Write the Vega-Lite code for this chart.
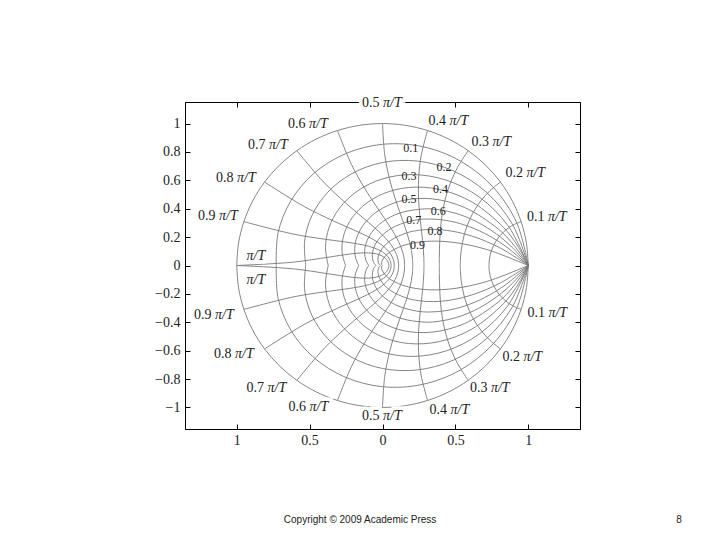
{
"$schema": "https://vega.github.io/schema/vega-lite/v6.json",
"width": 395, "height": 327,
"autosize": {"type": "none"},
"padding": {"left": 185, "top": 102, "right": 140, "bottom": 111},
"background": "white",
"config": {"view": {"stroke": "black", "strokeWidth": 1}},
"resolve": {"axis": {"x": "independent", "y": "independent"}},
"datasets": {
"curves": [
{"c":"z0","t":0,"x":1,"y":0},{"c":"z0","t":9,"x":0.98769,"y":0.15643},{"c":"z0","t":18,"x":0.95106,"y":0.30902},{"c":"z0","t":27,"x":0.89101,"y":0.45399},{"c":"z0","t":36,"x":0.80902,"y":0.58779},{"c":"z0","t":45,"x":0.70711,"y":0.70711},{"c":"z0","t":54,"x":0.58779,"y":0.80902},{"c":"z0","t":63,"x":0.45399,"y":0.89101},{"c":"z0","t":72,"x":0.30902,"y":0.95106},{"c":"z0","t":81,"x":0.15643,"y":0.98769},{"c":"z0","t":90,"x":0,"y":1},{"c":"z0","t":99,"x":-0.15643,"y":0.98769},{"c":"z0","t":108,"x":-0.30902,"y":0.95106},{"c":"z0","t":117,"x":-0.45399,"y":0.89101},{"c":"z0","t":126,"x":-0.58779,"y":0.80902},{"c":"z0","t":135,"x":-0.70711,"y":0.70711},{"c":"z0","t":144,"x":-0.80902,"y":0.58779},{"c":"z0","t":153,"x":-0.89101,"y":0.45399},{"c":"z0","t":162,"x":-0.95106,"y":0.30902},{"c":"z0","t":171,"x":-0.98769,"y":0.15643},{"c":"z0","t":180,"x":-1,"y":0},
{"c":"z0n","t":0,"x":1,"y":0},{"c":"z0n","t":9,"x":0.98769,"y":-0.15643},{"c":"z0n","t":18,"x":0.95106,"y":-0.30902},{"c":"z0n","t":27,"x":0.89101,"y":-0.45399},{"c":"z0n","t":36,"x":0.80902,"y":-0.58779},{"c":"z0n","t":45,"x":0.70711,"y":-0.70711},{"c":"z0n","t":54,"x":0.58779,"y":-0.80902},{"c":"z0n","t":63,"x":0.45399,"y":-0.89101},{"c":"z0n","t":72,"x":0.30902,"y":-0.95106},{"c":"z0n","t":81,"x":0.15643,"y":-0.98769},{"c":"z0n","t":90,"x":0,"y":-1},{"c":"z0n","t":99,"x":-0.15643,"y":-0.98769},{"c":"z0n","t":108,"x":-0.30902,"y":-0.95106},{"c":"z0n","t":117,"x":-0.45399,"y":-0.89101},{"c":"z0n","t":126,"x":-0.58779,"y":-0.80902},{"c":"z0n","t":135,"x":-0.70711,"y":-0.70711},{"c":"z0n","t":144,"x":-0.80902,"y":-0.58779},{"c":"z0n","t":153,"x":-0.89101,"y":-0.45399},{"c":"z0n","t":162,"x":-0.95106,"y":-0.30902},{"c":"z0n","t":171,"x":-0.98769,"y":-0.15643},{"c":"z0n","t":180,"x":-1,"y":0},
{"c":"z1","t":0,"x":1,"y":0},{"c":"z1","t":18,"x":0.9215,"y":0.29942},{"c":"z1","t":36,"x":0.75951,"y":0.55182},{"c":"z1","t":54,"x":0.53467,"y":0.73591},{"c":"z1","t":72,"x":0.27236,"y":0.83822},{"c":"z1","t":90,"x":0,"y":0.85396},{"c":"z1","t":108,"x":-0.25569,"y":0.78692},{"c":"z1","t":126,"x":-0.47123,"y":0.64859},{"c":"z1","t":144,"x":-0.62843,"y":0.45659},{"c":"z1","t":162,"x":-0.71581,"y":0.23258},{"c":"z1","t":180,"x":-0.72925,"y":0},
{"c":"z1n","t":0,"x":1,"y":0},{"c":"z1n","t":18,"x":0.9215,"y":-0.29942},{"c":"z1n","t":36,"x":0.75951,"y":-0.55182},{"c":"z1n","t":54,"x":0.53467,"y":-0.73591},{"c":"z1n","t":72,"x":0.27236,"y":-0.83822},{"c":"z1n","t":90,"x":0,"y":-0.85396},{"c":"z1n","t":108,"x":-0.25569,"y":-0.78692},{"c":"z1n","t":126,"x":-0.47123,"y":-0.64859},{"c":"z1n","t":144,"x":-0.62843,"y":-0.45659},{"c":"z1n","t":162,"x":-0.71581,"y":-0.23258},{"c":"z1n","t":180,"x":-0.72925,"y":0},
{"c":"z2","t":0,"x":1,"y":0},{"c":"z2","t":18,"x":0.89199,"y":0.28983},{"c":"z2","t":36,"x":0.71164,"y":0.51704},{"c":"z2","t":54,"x":0.48492,"y":0.66743},{"c":"z2","t":72,"x":0.2391,"y":0.73588},{"c":"z2","t":90,"x":0,"y":0.72569},{"c":"z2","t":108,"x":-0.21032,"y":0.6473},{"c":"z2","t":126,"x":-0.37521,"y":0.51643},{"c":"z2","t":144,"x":-0.48435,"y":0.3519},{"c":"z2","t":162,"x":-0.53402,"y":0.17351},{"c":"z2","t":180,"x":-0.52662,"y":0},
{"c":"z2n","t":0,"x":1,"y":0},{"c":"z2n","t":18,"x":0.89199,"y":-0.28983},{"c":"z2n","t":36,"x":0.71164,"y":-0.51704},{"c":"z2n","t":54,"x":0.48492,"y":-0.66743},{"c":"z2n","t":72,"x":0.2391,"y":-0.73588},{"c":"z2n","t":90,"x":0,"y":-0.72569},{"c":"z2n","t":108,"x":-0.21032,"y":-0.6473},{"c":"z2n","t":126,"x":-0.37521,"y":-0.51643},{"c":"z2n","t":144,"x":-0.48435,"y":-0.3519},{"c":"z2n","t":162,"x":-0.53402,"y":-0.17351},{"c":"z2n","t":180,"x":-0.52662,"y":0},
{"c":"z3","t":0,"x":1,"y":0},{"c":"z3","t":18,"x":0.86159,"y":0.27995},{"c":"z3","t":36,"x":0.66396,"y":0.4824},{"c":"z3","t":54,"x":0.43702,"y":0.6015},{"c":"z3","t":72,"x":0.20814,"y":0.64059},{"c":"z3","t":90,"x":0,"y":0.61019},{"c":"z3","t":108,"x":-0.17082,"y":0.52573},{"c":"z3","t":126,"x":-0.29435,"y":0.40514},{"c":"z3","t":144,"x":-0.36703,"y":0.26666},{"c":"z3","t":162,"x":-0.39088,"y":0.127},{"c":"z3","t":180,"x":-0.37233,"y":0},
{"c":"z3n","t":0,"x":1,"y":0},{"c":"z3n","t":18,"x":0.86159,"y":-0.27995},{"c":"z3n","t":36,"x":0.66396,"y":-0.4824},{"c":"z3n","t":54,"x":0.43702,"y":-0.6015},{"c":"z3n","t":72,"x":0.20814,"y":-0.64059},{"c":"z3n","t":90,"x":0,"y":-0.61019},{"c":"z3n","t":108,"x":-0.17082,"y":-0.52573},{"c":"z3n","t":126,"x":-0.29435,"y":-0.40514},{"c":"z3n","t":144,"x":-0.36703,"y":-0.26666},{"c":"z3n","t":162,"x":-0.39088,"y":-0.127},{"c":"z3n","t":180,"x":-0.37233,"y":0},
{"c":"z4","t":0,"x":1,"y":0},{"c":"z4","t":9,"x":0.92225,"y":0.14607},{"c":"z4","t":18,"x":0.82921,"y":0.26943},{"c":"z4","t":36,"x":0.61499,"y":0.44682},{"c":"z4","t":54,"x":0.38957,"y":0.53619},{"c":"z4","t":72,"x":0.17857,"y":0.54957},{"c":"z4","t":90,"x":0,"y":0.50382},{"c":"z4","t":108,"x":-0.13574,"y":0.41777},{"c":"z4","t":126,"x":-0.22511,"y":0.30984},{"c":"z4","t":144,"x":-0.27014,"y":0.19627},{"c":"z4","t":162,"x":-0.27688,"y":0.08997},{"c":"z4","t":180,"x":-0.25383,"y":0},
{"c":"z4n","t":0,"x":1,"y":0},{"c":"z4n","t":9,"x":0.92225,"y":-0.14607},{"c":"z4n","t":18,"x":0.82921,"y":-0.26943},{"c":"z4n","t":36,"x":0.61499,"y":-0.44682},{"c":"z4n","t":54,"x":0.38957,"y":-0.53619},{"c":"z4n","t":72,"x":0.17857,"y":-0.54957},{"c":"z4n","t":90,"x":0,"y":-0.50382},{"c":"z4n","t":108,"x":-0.13574,"y":-0.41777},{"c":"z4n","t":126,"x":-0.22511,"y":-0.30984},{"c":"z4n","t":144,"x":-0.27014,"y":-0.19627},{"c":"z4n","t":162,"x":-0.27688,"y":-0.08997},{"c":"z4n","t":180,"x":-0.25383,"y":0},
{"c":"z5","t":0,"x":1,"y":0},{"c":"z5","t":9,"x":0.90206,"y":0.14287},{"c":"z5","t":18,"x":0.7933,"y":0.25776},{"c":"z5","t":36,"x":0.56288,"y":0.40896},{"c":"z5","t":54,"x":0.34112,"y":0.46951},{"c":"z5","t":72,"x":0.14959,"y":0.46038},{"c":"z5","t":90,"x":0,"y":0.40378},{"c":"z5","t":108,"x":-0.10408,"y":0.32031},{"c":"z5","t":126,"x":-0.16513,"y":0.22728},{"c":"z5","t":144,"x":-0.18958,"y":0.13774},{"c":"z5","t":162,"x":-0.18589,"y":0.0604},{"c":"z5","t":180,"x":-0.16303,"y":0},
{"c":"z5n","t":0,"x":1,"y":0},{"c":"z5n","t":9,"x":0.90206,"y":-0.14287},{"c":"z5n","t":18,"x":0.7933,"y":-0.25776},{"c":"z5n","t":36,"x":0.56288,"y":-0.40896},{"c":"z5n","t":54,"x":0.34112,"y":-0.46951},{"c":"z5n","t":72,"x":0.14959,"y":-0.46038},{"c":"z5n","t":90,"x":0,"y":-0.40378},{"c":"z5n","t":108,"x":-0.10408,"y":-0.32031},{"c":"z5n","t":126,"x":-0.16513,"y":-0.22728},{"c":"z5n","t":144,"x":-0.18958,"y":-0.13774},{"c":"z5n","t":162,"x":-0.18589,"y":-0.0604},{"c":"z5n","t":180,"x":-0.16303,"y":0},
{"c":"z6","t":0,"x":1,"y":0},{"c":"z6","t":9,"x":0.87792,"y":0.13905},{"c":"z6","t":18,"x":0.75142,"y":0.24415},{"c":"z6","t":27,"x":0.62573,"y":0.31883},{"c":"z6","t":36,"x":0.50501,"y":0.36691},{"c":"z6","t":45,"x":0.39234,"y":0.39234},{"c":"z6","t":54,"x":0.28989,"y":0.399},{"c":"z6","t":72,"x":0.12041,"y":0.37059},{"c":"z6","t":90,"x":0,"y":0.30786},{"c":"z6","t":108,"x":-0.07517,"y":0.23133},{"c":"z6","t":126,"x":-0.11296,"y":0.15548},{"c":"z6","t":144,"x":-0.12284,"y":0.08925},{"c":"z6","t":162,"x":-0.11409,"y":0.03707},{"c":"z6","t":180,"x":-0.09478,"y":0},
{"c":"z6n","t":0,"x":1,"y":0},{"c":"z6n","t":9,"x":0.87792,"y":-0.13905},{"c":"z6n","t":18,"x":0.75142,"y":-0.24415},{"c":"z6n","t":27,"x":0.62573,"y":-0.31883},{"c":"z6n","t":36,"x":0.50501,"y":-0.36691},{"c":"z6n","t":45,"x":0.39234,"y":-0.39234},{"c":"z6n","t":54,"x":0.28989,"y":-0.399},{"c":"z6n","t":72,"x":0.12041,"y":-0.37059},{"c":"z6n","t":90,"x":0,"y":-0.30786},{"c":"z6n","t":108,"x":-0.07517,"y":-0.23133},{"c":"z6n","t":126,"x":-0.11296,"y":-0.15548},{"c":"z6n","t":144,"x":-0.12284,"y":-0.08925},{"c":"z6n","t":162,"x":-0.11409,"y":-0.03707},{"c":"z6n","t":180,"x":-0.09478,"y":0},
{"c":"z7","t":0,"x":1,"y":0},{"c":"z7","t":9,"x":0.84675,"y":0.13411},{"c":"z7","t":18,"x":0.69899,"y":0.22712},{"c":"z7","t":27,"x":0.56141,"y":0.28605},{"c":"z7","t":36,"x":0.43701,"y":0.31751},{"c":"z7","t":45,"x":0.32745,"y":0.32745},{"c":"z7","t":54,"x":0.23335,"y":0.32118},{"c":"z7","t":72,"x":0.09017,"y":0.2775},{"c":"z7","t":90,"x":0,"y":0.21445},{"c":"z7","t":108,"x":-0.04871,"y":0.1499},{"c":"z7","t":126,"x":-0.06809,"y":0.09372},{"c":"z7","t":144,"x":-0.06888,"y":0.05004},{"c":"z7","t":162,"x":-0.05951,"y":0.01934},{"c":"z7","t":180,"x":-0.04599,"y":0},
{"c":"z7n","t":0,"x":1,"y":0},{"c":"z7n","t":9,"x":0.84675,"y":-0.13411},{"c":"z7n","t":18,"x":0.69899,"y":-0.22712},{"c":"z7n","t":27,"x":0.56141,"y":-0.28605},{"c":"z7n","t":36,"x":0.43701,"y":-0.31751},{"c":"z7n","t":45,"x":0.32745,"y":-0.32745},{"c":"z7n","t":54,"x":0.23335,"y":-0.32118},{"c":"z7n","t":72,"x":0.09017,"y":-0.2775},{"c":"z7n","t":90,"x":0,"y":-0.21445},{"c":"z7n","t":108,"x":-0.04871,"y":-0.1499},{"c":"z7n","t":126,"x":-0.06809,"y":-0.09372},{"c":"z7n","t":144,"x":-0.06888,"y":-0.05004},{"c":"z7n","t":162,"x":-0.05951,"y":-0.01934},{"c":"z7n","t":180,"x":-0.04599,"y":0},
{"c":"z8","t":0,"x":1,"y":0},{"c":"z8","t":9,"x":0.80106,"y":0.12687},{"c":"z8","t":18,"x":0.62559,"y":0.20327},{"c":"z8","t":27,"x":0.47534,"y":0.2422},{"c":"z8","t":36,"x":0.35005,"y":0.25433},{"c":"z8","t":45,"x":0.24814,"y":0.24814},{"c":"z8","t":54,"x":0.16729,"y":0.23026},{"c":"z8","t":72,"x":0.05785,"y":0.17805},{"c":"z8","t":90,"x":0,"y":0.12315},{"c":"z8","t":108,"x":-0.02503,"y":0.07704},{"c":"z8","t":126,"x":-0.03132,"y":0.04311},{"c":"z8","t":144,"x":-0.02836,"y":0.0206},{"c":"z8","t":162,"x":-0.02193,"y":0.00712},{"c":"z8","t":180,"x":-0.01517,"y":0},
{"c":"z8n","t":0,"x":1,"y":0},{"c":"z8n","t":9,"x":0.80106,"y":-0.12687},{"c":"z8n","t":18,"x":0.62559,"y":-0.20327},{"c":"z8n","t":27,"x":0.47534,"y":-0.2422},{"c":"z8n","t":36,"x":0.35005,"y":-0.25433},{"c":"z8n","t":45,"x":0.24814,"y":-0.24814},{"c":"z8n","t":54,"x":0.16729,"y":-0.23026},{"c":"z8n","t":72,"x":0.05785,"y":-0.17805},{"c":"z8n","t":90,"x":0,"y":-0.12315},{"c":"z8n","t":108,"x":-0.02503,"y":-0.07704},{"c":"z8n","t":126,"x":-0.03132,"y":-0.04311},{"c":"z8n","t":144,"x":-0.02836,"y":-0.0206},{"c":"z8n","t":162,"x":-0.02193,"y":-0.00712},{"c":"z8n","t":180,"x":-0.01517,"y":0},
{"c":"z9","t":0,"x":1,"y":0},{"c":"z9","t":9,"x":0.71411,"y":0.1131},{"c":"z9","t":18,"x":0.49717,"y":0.16154},{"c":"z9","t":27,"x":0.33676,"y":0.17159},{"c":"z9","t":36,"x":0.22108,"y":0.16062},{"c":"z9","t":45,"x":0.13971,"y":0.13971},{"c":"z9","t":54,"x":0.08397,"y":0.11557},{"c":"z9","t":63,"x":0.04689,"y":0.09203},{"c":"z9","t":72,"x":0.02308,"y":0.07102},{"c":"z9","t":90,"x":0,"y":0.03904},{"c":"z9","t":108,"x":-0.00631,"y":0.01941},{"c":"z9","t":126,"x":-0.00627,"y":0.00863},{"c":"z9","t":144,"x":-0.00451,"y":0.00328},{"c":"z9","t":162,"x":-0.00277,"y":0.0009},{"c":"z9","t":180,"x":-0.00152,"y":0},
{"c":"z9n","t":0,"x":1,"y":0},{"c":"z9n","t":9,"x":0.71411,"y":-0.1131},{"c":"z9n","t":18,"x":0.49717,"y":-0.16154},{"c":"z9n","t":27,"x":0.33676,"y":-0.17159},{"c":"z9n","t":36,"x":0.22108,"y":-0.16062},{"c":"z9n","t":45,"x":0.13971,"y":-0.13971},{"c":"z9n","t":54,"x":0.08397,"y":-0.11557},{"c":"z9n","t":63,"x":0.04689,"y":-0.09203},{"c":"z9n","t":72,"x":0.02308,"y":-0.07102},{"c":"z9n","t":90,"x":0,"y":-0.03904},{"c":"z9n","t":108,"x":-0.00631,"y":-0.01941},{"c":"z9n","t":126,"x":-0.00627,"y":-0.00863},{"c":"z9n","t":144,"x":-0.00451,"y":-0.00328},{"c":"z9n","t":162,"x":-0.00277,"y":-0.0009},{"c":"z9n","t":180,"x":-0.00152,"y":0},
{"c":"w1","t":0,"x":0.95106,"y":0.30902},{"c":"w1","t":1,"x":0.90658,"y":0.29069},{"c":"w1","t":2,"x":0.86728,"y":0.26712},{"c":"w1","t":3,"x":0.83333,"y":0.23955},{"c":"w1","t":4,"x":0.80468,"y":0.20904},{"c":"w1","t":5,"x":0.78112,"y":0.17643},{"c":"w1","t":6,"x":0.76238,"y":0.1424},{"c":"w1","t":7,"x":0.74817,"y":0.10744},{"c":"w1","t":8,"x":0.73823,"y":0.07189},{"c":"w1","t":9,"x":0.73235,"y":0.03602},{"c":"w1","t":10,"x":0.7304,"y":0},
{"c":"w1n","t":0,"x":0.95106,"y":-0.30902},{"c":"w1n","t":1,"x":0.90658,"y":-0.29069},{"c":"w1n","t":2,"x":0.86728,"y":-0.26712},{"c":"w1n","t":3,"x":0.83333,"y":-0.23955},{"c":"w1n","t":4,"x":0.80468,"y":-0.20904},{"c":"w1n","t":5,"x":0.78112,"y":-0.17643},{"c":"w1n","t":6,"x":0.76238,"y":-0.1424},{"c":"w1n","t":7,"x":0.74817,"y":-0.10744},{"c":"w1n","t":8,"x":0.73823,"y":-0.07189},{"c":"w1n","t":9,"x":0.73235,"y":-0.03602},{"c":"w1n","t":10,"x":0.7304,"y":0},
{"c":"w2","t":0,"x":0.80902,"y":0.58779},{"c":"w2","t":1,"x":0.73738,"y":0.52707},{"c":"w2","t":2,"x":0.68081,"y":0.46334},{"c":"w2","t":3,"x":0.63706,"y":0.39925},{"c":"w2","t":4,"x":0.60381,"y":0.33642},{"c":"w2","t":5,"x":0.57902,"y":0.27563},{"c":"w2","t":6,"x":0.56095,"y":0.21713},{"c":"w2","t":7,"x":0.54822,"y":0.16076},{"c":"w2","t":8,"x":0.53981,"y":0.10615},{"c":"w2","t":9,"x":0.53504,"y":0.05276},{"c":"w2","t":10,"x":0.53349,"y":0},
{"c":"w2n","t":0,"x":0.80902,"y":-0.58779},{"c":"w2n","t":1,"x":0.73738,"y":-0.52707},{"c":"w2n","t":2,"x":0.68081,"y":-0.46334},{"c":"w2n","t":3,"x":0.63706,"y":-0.39925},{"c":"w2n","t":4,"x":0.60381,"y":-0.33642},{"c":"w2n","t":5,"x":0.57902,"y":-0.27563},{"c":"w2n","t":6,"x":0.56095,"y":-0.21713},{"c":"w2n","t":7,"x":0.54822,"y":-0.16076},{"c":"w2n","t":8,"x":0.53981,"y":-0.10615},{"c":"w2n","t":9,"x":0.53504,"y":-0.05276},{"c":"w2n","t":10,"x":0.53349,"y":0},
{"c":"w3","t":0,"x":0.58779,"y":0.80902},{"c":"w3","t":1,"x":0.51528,"y":0.69219},{"c":"w3","t":2,"x":0.46668,"y":0.58371},{"c":"w3","t":3,"x":0.43524,"y":0.48532},{"c":"w3","t":4,"x":0.41556,"y":0.39692},{"c":"w3","t":5,"x":0.40366,"y":0.31746},{"c":"w3","t":6,"x":0.39673,"y":0.24542},{"c":"w3","t":7,"x":0.39289,"y":0.17918},{"c":"w3","t":8,"x":0.39087,"y":0.11717},{"c":"w3","t":9,"x":0.38993,"y":0.05791},{"c":"w3","t":10,"x":0.38966,"y":0},
{"c":"w3n","t":0,"x":0.58779,"y":-0.80902},{"c":"w3n","t":1,"x":0.51528,"y":-0.69219},{"c":"w3n","t":2,"x":0.46668,"y":-0.58371},{"c":"w3n","t":3,"x":0.43524,"y":-0.48532},{"c":"w3n","t":4,"x":0.41556,"y":-0.39692},{"c":"w3n","t":5,"x":0.40366,"y":-0.31746},{"c":"w3n","t":6,"x":0.39673,"y":-0.24542},{"c":"w3n","t":7,"x":0.39289,"y":-0.17918},{"c":"w3n","t":8,"x":0.39087,"y":-0.11717},{"c":"w3n","t":9,"x":0.38993,"y":-0.05791},{"c":"w3n","t":10,"x":0.38966,"y":0},
{"c":"w4","t":0,"x":0.30902,"y":0.95106},{"c":"w4","t":1,"x":0.26593,"y":0.77731},{"c":"w4","t":2,"x":0.24882,"y":0.6309},{"c":"w4","t":3,"x":0.24643,"y":0.50869},{"c":"w4","t":4,"x":0.25141,"y":0.40627},{"c":"w4","t":5,"x":0.25929,"y":0.3192},{"c":"w4","t":6,"x":0.26752,"y":0.2436},{"c":"w4","t":7,"x":0.2747,"y":0.17627},{"c":"w4","t":8,"x":0.28013,"y":0.1146},{"c":"w4","t":9,"x":0.28348,"y":0.05645},{"c":"w4","t":10,"x":0.28461,"y":0},
{"c":"w4n","t":0,"x":0.30902,"y":-0.95106},{"c":"w4n","t":1,"x":0.26593,"y":-0.77731},{"c":"w4n","t":2,"x":0.24882,"y":-0.6309},{"c":"w4n","t":3,"x":0.24643,"y":-0.50869},{"c":"w4n","t":4,"x":0.25141,"y":-0.40627},{"c":"w4n","t":5,"x":0.25929,"y":-0.3192},{"c":"w4n","t":6,"x":0.26752,"y":-0.2436},{"c":"w4n","t":7,"x":0.2747,"y":-0.17627},{"c":"w4n","t":8,"x":0.28013,"y":-0.1146},{"c":"w4n","t":9,"x":0.28348,"y":-0.05645},{"c":"w4n","t":10,"x":0.28461,"y":0},
{"c":"w5","t":0,"x":0,"y":1},{"c":"w5","t":1,"x":0.01513,"y":0.782},{"c":"w5","t":2,"x":0.04727,"y":0.61363},{"c":"w5","t":3,"x":0.0835,"y":0.48295},{"c":"w5","t":4,"x":0.11738,"y":0.37947},{"c":"w5","t":5,"x":0.14622,"y":0.29508},{"c":"w5","t":6,"x":0.16926,"y":0.22381},{"c":"w5","t":7,"x":0.18658,"y":0.16139},{"c":"w5","t":8,"x":0.19856,"y":0.10474},{"c":"w5","t":9,"x":0.20557,"y":0.05156},{"c":"w5","t":10,"x":0.20788,"y":0},
{"c":"w5n","t":0,"x":0,"y":-1},{"c":"w5n","t":1,"x":0.01513,"y":-0.782},{"c":"w5n","t":2,"x":0.04727,"y":-0.61363},{"c":"w5n","t":3,"x":0.0835,"y":-0.48295},{"c":"w5n","t":4,"x":0.11738,"y":-0.37947},{"c":"w5n","t":5,"x":0.14622,"y":-0.29508},{"c":"w5n","t":6,"x":0.16926,"y":-0.22381},{"c":"w5n","t":7,"x":0.18658,"y":-0.16139},{"c":"w5n","t":8,"x":0.19856,"y":-0.10474},{"c":"w5n","t":9,"x":0.20557,"y":-0.05156},{"c":"w5n","t":10,"x":0.20788,"y":0},
{"c":"w6","t":0,"x":-0.30902,"y":0.95106},{"c":"w6","t":1,"x":-0.21361,"y":0.71334},{"c":"w6","t":2,"x":-0.12292,"y":0.54482},{"c":"w6","t":3,"x":-0.0461,"y":0.42246},{"c":"w6","t":4,"x":0.01514,"y":0.32989},{"c":"w6","t":5,"x":0.06216,"y":0.25629},{"c":"w6","t":6,"x":0.09717,"y":0.19473},{"c":"w6","t":7,"x":0.12226,"y":0.14079},{"c":"w6","t":8,"x":0.13905,"y":0.0916},{"c":"w6","t":9,"x":0.1487,"y":0.04516},{"c":"w6","t":10,"x":0.15184,"y":0},
{"c":"w6n","t":0,"x":-0.30902,"y":-0.95106},{"c":"w6n","t":1,"x":-0.21361,"y":-0.71334},{"c":"w6n","t":2,"x":-0.12292,"y":-0.54482},{"c":"w6n","t":3,"x":-0.0461,"y":-0.42246},{"c":"w6n","t":4,"x":0.01514,"y":-0.32989},{"c":"w6n","t":5,"x":0.06216,"y":-0.25629},{"c":"w6n","t":6,"x":0.09717,"y":-0.19473},{"c":"w6n","t":7,"x":0.12226,"y":-0.14079},{"c":"w6n","t":8,"x":0.13905,"y":-0.0916},{"c":"w6n","t":9,"x":0.1487,"y":-0.04516},{"c":"w6n","t":10,"x":0.15184,"y":0},
{"c":"w7","t":0,"x":-0.58779,"y":0.80902},{"c":"w7","t":1,"x":-0.40101,"y":0.5846},{"c":"w7","t":2,"x":-0.25214,"y":0.43967},{"c":"w7","t":3,"x":-0.13963,"y":0.341},{"c":"w7","t":4,"x":-0.05678,"y":0.26862},{"c":"w7","t":5,"x":0.00333,"y":0.21116},{"c":"w7","t":6,"x":0.04635,"y":0.1623},{"c":"w7","t":7,"x":0.07634,"y":0.11847},{"c":"w7","t":8,"x":0.09607,"y":0.07762},{"c":"w7","t":9,"x":0.10727,"y":0.03843},{"c":"w7","t":10,"x":0.1109,"y":0},
{"c":"w7n","t":0,"x":-0.58779,"y":-0.80902},{"c":"w7n","t":1,"x":-0.40101,"y":-0.5846},{"c":"w7n","t":2,"x":-0.25214,"y":-0.43967},{"c":"w7n","t":3,"x":-0.13963,"y":-0.341},{"c":"w7n","t":4,"x":-0.05678,"y":-0.26862},{"c":"w7n","t":5,"x":0.00333,"y":-0.21116},{"c":"w7n","t":6,"x":0.04635,"y":-0.1623},{"c":"w7n","t":7,"x":0.07634,"y":-0.11847},{"c":"w7n","t":8,"x":0.09607,"y":-0.07762},{"c":"w7n","t":9,"x":0.10727,"y":-0.03843},{"c":"w7n","t":10,"x":0.1109,"y":0},
{"c":"w8","t":0,"x":-0.80902,"y":0.58779},{"c":"w8","t":1,"x":-0.53349,"y":0.41342},{"c":"w8","t":2,"x":-0.33612,"y":0.31396},{"c":"w8","t":3,"x":-0.19804,"y":0.25072},{"c":"w8","t":4,"x":-0.10184,"y":0.20428},{"c":"w8","t":5,"x":-0.03465,"y":0.16553},{"c":"w8","t":6,"x":0.01223,"y":0.13033},{"c":"w8","t":7,"x":0.04439,"y":0.09684},{"c":"w8","t":8,"x":0.06534,"y":0.06421},{"c":"w8","t":9,"x":0.07717,"y":0.03201},{"c":"w8","t":10,"x":0.081,"y":0},
{"c":"w8n","t":0,"x":-0.80902,"y":-0.58779},{"c":"w8n","t":1,"x":-0.53349,"y":-0.41342},{"c":"w8n","t":2,"x":-0.33612,"y":-0.31396},{"c":"w8n","t":3,"x":-0.19804,"y":-0.25072},{"c":"w8n","t":4,"x":-0.10184,"y":-0.20428},{"c":"w8n","t":5,"x":-0.03465,"y":-0.16553},{"c":"w8n","t":6,"x":0.01223,"y":-0.13033},{"c":"w8n","t":7,"x":0.04439,"y":-0.09684},{"c":"w8n","t":8,"x":0.06534,"y":-0.06421},{"c":"w8n","t":9,"x":0.07717,"y":-0.03201},{"c":"w8n","t":10,"x":0.081,"y":0},
{"c":"w9","t":0,"x":-0.95106,"y":0.30902},{"c":"w9","t":1,"x":-0.60383,"y":0.21971},{"c":"w9","t":2,"x":-0.37538,"y":0.18251},{"c":"w9","t":3,"x":-0.2251,"y":0.16149},{"c":"w9","t":4,"x":-0.12465,"y":0.14309},{"c":"w9","t":5,"x":-0.05627,"y":0.12319},{"c":"w9","t":6,"x":-0.00924,"y":0.10111},{"c":"w9","t":7,"x":0.02281,"y":0.07722},{"c":"w9","t":8,"x":0.04362,"y":0.0521},{"c":"w9","t":9,"x":0.05537,"y":0.02622},{"c":"w9","t":10,"x":0.05916,"y":0},
{"c":"w9n","t":0,"x":-0.95106,"y":-0.30902},{"c":"w9n","t":1,"x":-0.60383,"y":-0.21971},{"c":"w9n","t":2,"x":-0.37538,"y":-0.18251},{"c":"w9n","t":3,"x":-0.2251,"y":-0.16149},{"c":"w9n","t":4,"x":-0.12465,"y":-0.14309},{"c":"w9n","t":5,"x":-0.05627,"y":-0.12319},{"c":"w9n","t":6,"x":-0.00924,"y":-0.10111},{"c":"w9n","t":7,"x":0.02281,"y":-0.07722},{"c":"w9n","t":8,"x":0.04362,"y":-0.0521},{"c":"w9n","t":9,"x":0.05537,"y":-0.02622},{"c":"w9n","t":10,"x":0.05916,"y":0},
{"c":"w10","t":0,"x":-1,"y":0},{"c":"w10","t":1,"x":-0.61129,"y":0.02366},{"c":"w10","t":2,"x":-0.37431,"y":0.05801},{"c":"w10","t":3,"x":-0.22627,"y":0.08065},{"c":"w10","t":4,"x":-0.13022,"y":0.08909},{"c":"w10","t":5,"x":-0.06569,"y":0.0863},{"c":"w10","t":6,"x":-0.02144,"y":0.07577},{"c":"w10","t":7,"x":0.00877,"y":0.06023},{"c":"w10","t":8,"x":0.02846,"y":0.0416},{"c":"w10","t":9,"x":0.0396,"y":0.0212},{"c":"w10","t":10,"x":0.04321,"y":0},
{"c":"w10n","t":0,"x":-1,"y":0},{"c":"w10n","t":1,"x":-0.61129,"y":-0.02366},{"c":"w10n","t":2,"x":-0.37431,"y":-0.05801},{"c":"w10n","t":3,"x":-0.22627,"y":-0.08065},{"c":"w10n","t":4,"x":-0.13022,"y":-0.08909},{"c":"w10n","t":5,"x":-0.06569,"y":-0.0863},{"c":"w10n","t":6,"x":-0.02144,"y":-0.07577},{"c":"w10n","t":7,"x":0.00877,"y":-0.06023},{"c":"w10n","t":8,"x":0.02846,"y":-0.0416},{"c":"w10n","t":9,"x":0.0396,"y":-0.0212},{"c":"w10n","t":10,"x":0.04321,"y":0}
],
"nf": [
{"n":"0.1","x":1.1283,"y":0.341},{"n":"0.2","x":0.9808,"y":0.650},{"n":"0.3","x":0.7476,"y":0.868},{"n":"0.4","x":0.4527,"y":1.016},{"n":"0.5","x":-0.0034,"y":1.143},{"n":"0.6","x":-0.511,"y":0.995},{"n":"0.7","x":-0.7853,"y":0.847},{"n":"0.8","x":-1.0048,"y":0.615},{"n":"0.9","x":-1.1283,"y":0.348},{"n":"","x":-0.94,"y":0.067},
{"n":"0.1","x":1.1317,"y":-0.334},{"n":"0.2","x":0.9602,"y":-0.643},{"n":"0.3","x":0.7373,"y":-0.861},{"n":"0.4","x":0.4595,"y":-1.016},{"n":"0.5","x":-0.0034,"y":-1.058},{"n":"0.6","x":-0.5075,"y":-0.995},{"n":"0.7","x":-0.7956,"y":-0.861},{"n":"0.8","x":-1.0185,"y":-0.622},{"n":"0.9","x":-1.1557,"y":-0.348},{"n":"","x":-0.94,"y":-0.102}
],
"dl": [
{"n":"0.1","x":0.1934,"y":0.8312},{"n":"0.2","x":0.4218,"y":0.6906},{"n":"0.3","x":0.1818,"y":0.6294},{"n":"0.4","x":0.3978,"y":0.5359},{"n":"0.5","x":0.1818,"y":0.4698},{"n":"0.6","x":0.3827,"y":0.3854},{"n":"0.7","x":0.214,"y":0.32},{"n":"0.8","x":0.3601,"y":0.2447},{"n":"0.9","x":0.24,"y":0.1442}
],
"ft": [
{"s":"Copyright © 2009 Academic Press","x":-0.154,"y":-1.79},{"s":"8","x":2.034,"y":-1.79}
]
},
"layer": [
{
"data": {"name": "curves"},
"mark": {"type": "line", "interpolate": "catmull-rom", "stroke": "#777777", "strokeWidth": 0.9, "clip": true},
"encoding": {
"x": {"field": "x", "type": "quantitative", "scale": {"domain": [-1.355, 1.355], "nice": false, "zero": false},
"axis": {"orient": "bottom", "values": [-1, -0.5, 0, 0.5, 1], "labelExpr": "format(abs(datum.value), '~g')", "title": null, "grid": false, "domainColor": "black", "tickColor": "black", "tickSize": -5, "labelPadding": 9, "labelFont": "Liberation Serif", "labelFontSize": 14, "labelColor": "#222222", "labelFlush": false}},
"y": {"field": "y", "type": "quantitative", "scale": {"domain": [-1.152, 1.152], "nice": false, "zero": false},
"axis": {"orient": "left", "values": [-1, -0.8, -0.6, -0.4, -0.2, 0, 0.2, 0.4, 0.6, 0.8, 1], "labelExpr": "format(datum.value, '.1~f')", "title": null, "grid": false, "domainColor": "black", "tickColor": "black", "tickSize": -5, "labelPadding": 10, "labelFont": "Liberation Serif", "labelFontSize": 14, "labelColor": "#222222", "labelFlush": false}},
"detail": {"field": "c", "type": "nominal"},
"order": {"field": "t", "type": "quantitative"}
}
},
{
"data": {"name": "nf"},
"mark": {"type": "text", "align": "right", "baseline": "middle", "dx": -2.5, "font": "Liberation Serif", "fontSize": 14, "fill": "white", "stroke": "white", "strokeWidth": 7},
"encoding": {
"x": {"field": "x", "type": "quantitative", "scale": {"domain": [-1.355, 1.355], "nice": false, "zero": false},
"axis": {"orient": "top", "values": [-1, -0.5, 0, 0.5, 1], "labels": false, "title": null, "grid": false, "domainColor": "black", "tickColor": "black", "tickSize": -5}},
"y": {"field": "y", "type": "quantitative", "scale": {"domain": [-1.152, 1.152], "nice": false, "zero": false},
"axis": {"orient": "right", "values": [-1, -0.8, -0.6, -0.4, -0.2, 0, 0.2, 0.4, 0.6, 0.8, 1], "labels": false, "title": null, "grid": false, "domainColor": "black", "tickColor": "black", "tickSize": -5}},
"text": {"field": "n", "type": "nominal"}
}
},
{
"data": {"name": "nf"},
"mark": {"type": "text", "align": "left", "baseline": "middle", "dx": 1, "font": "Liberation Serif", "fontSize": 14, "fontStyle": "italic", "fill": "white", "stroke": "white", "strokeWidth": 7, "text": "π/T"},
"encoding": {
"x": {"field": "x", "type": "quantitative", "scale": {"domain": [-1.355, 1.355], "nice": false, "zero": false}, "axis": null},
"y": {"field": "y", "type": "quantitative", "scale": {"domain": [-1.152, 1.152], "nice": false, "zero": false}, "axis": null}
}
},
{
"data": {"name": "nf"},
"mark": {"type": "text", "align": "right", "baseline": "middle", "dx": -2.5, "font": "Liberation Serif", "fontSize": 14, "fill": "#222222"},
"encoding": {
"x": {"field": "x", "type": "quantitative", "scale": {"domain": [-1.355, 1.355], "nice": false, "zero": false}, "axis": null},
"y": {"field": "y", "type": "quantitative", "scale": {"domain": [-1.152, 1.152], "nice": false, "zero": false}, "axis": null},
"text": {"field": "n", "type": "nominal"}
}
},
{
"data": {"name": "nf"},
"mark": {"type": "text", "align": "left", "baseline": "middle", "dx": 1, "font": "Liberation Serif", "fontSize": 14, "fontStyle": "italic", "fill": "#222222", "text": "π/T"},
"encoding": {
"x": {"field": "x", "type": "quantitative", "scale": {"domain": [-1.355, 1.355], "nice": false, "zero": false}, "axis": null},
"y": {"field": "y", "type": "quantitative", "scale": {"domain": [-1.152, 1.152], "nice": false, "zero": false}, "axis": null}
}
},
{
"data": {"name": "dl"},
"mark": {"type": "text", "align": "center", "baseline": "middle", "font": "Liberation Serif", "fontSize": 12, "fill": "#222222"},
"encoding": {
"x": {"field": "x", "type": "quantitative", "scale": {"domain": [-1.355, 1.355], "nice": false, "zero": false}, "axis": null},
"y": {"field": "y", "type": "quantitative", "scale": {"domain": [-1.152, 1.152], "nice": false, "zero": false}, "axis": null},
"text": {"field": "n", "type": "nominal"}
}
},
{
"data": {"name": "ft"},
"mark": {"type": "text", "align": "center", "baseline": "middle", "font": "Liberation Sans", "fontSize": 10, "fill": "#222222"},
"encoding": {
"x": {"field": "x", "type": "quantitative", "scale": {"domain": [-1.355, 1.355], "nice": false, "zero": false}, "axis": null},
"y": {"field": "y", "type": "quantitative", "scale": {"domain": [-1.152, 1.152], "nice": false, "zero": false}, "axis": null},
"text": {"field": "s", "type": "nominal"}
}
}
]
}
